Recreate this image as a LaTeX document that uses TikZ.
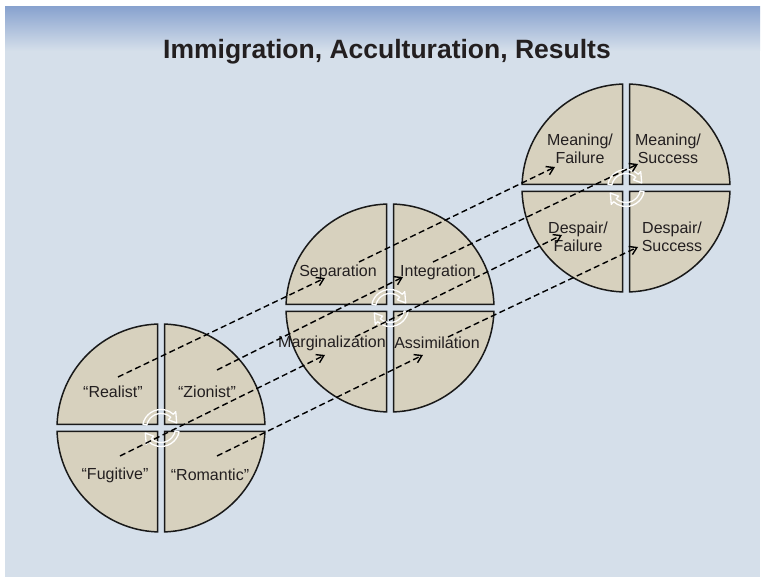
\documentclass[tikz,border=0pt]{standalone}
\usepackage{fontspec}
\setmainfont{Liberation Sans}
\usetikzlibrary{arrows.meta}

\definecolor{panel}{HTML}{D5DFEA}
\definecolor{paneltop}{HTML}{89A3CF}
\definecolor{quadfill}{HTML}{D7D1BE}
\definecolor{ink}{HTML}{231F20}

\begin{document}
\begin{tikzpicture}[x=1pt,y=1pt,
  quad/.style={draw=black!90, fill=quadfill, line width=1.5pt},
  lbl/.style={text=ink, font=\fontsize{16}{18}\selectfont, align=center, inner sep=0pt},
  link/.style={draw=black, line width=1.4pt, dash pattern=on 6pt off 3.5pt, -{Straight Barb[length=7pt,width=9pt]}},
  turn/.style={draw=white, line width=1.3pt, line join=round}
]
\useasboundingbox (0,0) rectangle (766,577);
\fill[panel] (5,0) rectangle (760,570);
\shade[top color=paneltop, bottom color=panel] (5,526) rectangle (760,570);

\node[font=\bfseries\fontsize{26.5}{30}\selectfont, text=ink] (title) at (387,525) {Immigration, Acculturation, Results};

% three split circles, each with a turning arrow pair in the middle
\coordinate (c1) at (161,149);
\coordinate (c2) at (390,269);
\coordinate (c3) at (626,389);
\foreach \ctr in {c1,c2,c3}{
  \foreach \k in {0,...,3}
    \draw[quad, shift={(\ctr)}, rotate=90*\k] (3.5pt,3.5pt) -- (88.07:104pt) arc[start angle=88.07, end angle=1.93, radius=104pt] -- cycle;
  \foreach \k in {0,180}
    \draw[turn, shift={(\ctr)}, rotate=\k] (168:18.5pt) arc[start angle=168, end angle=48, radius=18.5pt]
      -- (48:22pt) -- (18:16.5pt) -- (48:11pt) -- (48:14.5pt) arc[start angle=48, end angle=168, radius=14.5pt] -- cycle;
}

% labels
\node[lbl] (realist) at (113,185) {``Realist''};
\node[lbl] (zionist) at (207,185) {``Zionist''};
\node[lbl] (fugitive) at (115,102) {``Fugitive''};
\node[lbl] (romantic) at (210,102) {``Romantic''};
\node[lbl] (separation) at (338,305) {Separation};
\node[lbl] (integration) at (438,305) {Integration};
\node[lbl] (marginal) at (332,234) {Marginalization};
\node[lbl] (assimilation) at (437,234) {Assimilation};
\node[lbl] (meanfail) at (580,428) {Meaning/\\Failure};
\node[lbl] (meansucc) at (668,428) {Meaning/\\Success};
\node[lbl] (despfail) at (578,340) {Despair/\\Failure};
\node[lbl] (despsucc) at (672,340) {Despair/\\Success};

% dashed paths from one circle into the next
\foreach \nm/\ax/\ay/\bx/\by in {realist/118/200/325/299, zionist/217/207/403/300,
    fugitive/120/121/325/222, romantic/217/121/423/222,
    separation/359/315/555/410, integration/433/315/638/413,
    marginal/355/240/562/342, assimilation/448/240/638/330}{
  \coordinate (\nm-a) at (\ax,\ay);
  \coordinate (\nm-b) at (\bx,\by);
  \draw[link] (\nm-a) -- (\nm-b);
}
\end{tikzpicture}
\end{document}
